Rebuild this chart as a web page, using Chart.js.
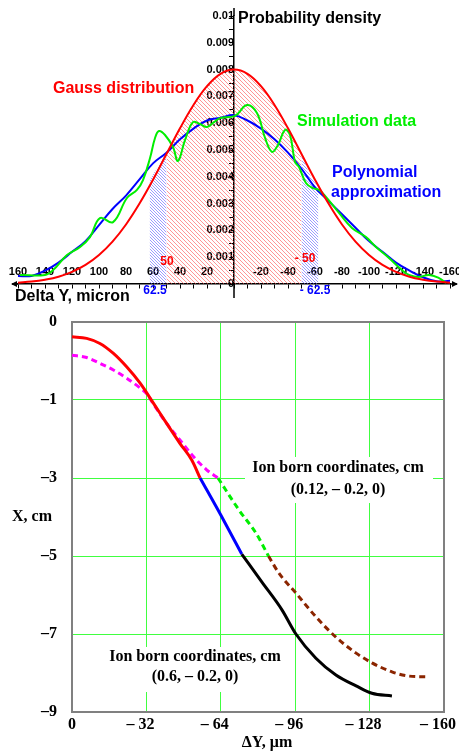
<!DOCTYPE html>
<html>
<head>
<meta charset="utf-8">
<script src="https://cdn.jsdelivr.net/npm/chart.js@4.4.1/dist/chart.umd.min.js"></script>
<style>
html, body { margin: 0; padding: 0; background: #fff; }
#wrap { position: relative; width: 459px; height: 751px; overflow: hidden; }
#top { position: absolute; left: 0; top: 0; }
#bottom { position: absolute; left: 0; top: 305px; }
</style>
</head>
<body>
<div id="wrap">
  <canvas id="top" width="459" height="305"></canvas>
  <canvas id="bottom" width="459" height="446"></canvas>
</div>
<script>
// ---- top chart: probability density vs Delta Y ----
var gaussX = [160, 150, 140, 130, 120, 110, 100, 90, 80, 70, 60, 50, 40, 30, 20, 10, 0,
              -10, -20, -30, -40, -50, -60, -70, -80, -90, -100, -110, -120, -130, -140, -150, -160];
var gaussY = [0.00005, 0.00009, 0.00016, 0.00027, 0.00045, 0.00071, 0.00108, 0.00158, 0.00222, 0.00300, 0.00389, 0.00485, 0.00581, 0.00668, 0.00738, 0.00784, 0.00800,
              0.00784, 0.00738, 0.00668, 0.00581, 0.00485, 0.00389, 0.00300, 0.00222, 0.00158, 0.00108, 0.00071, 0.00045, 0.00027, 0.00016, 0.00009, 0.00005];

var polyX = [160, 150, 140, 130, 120, 110, 100, 90, 80, 70, 60, 50, 40, 30, 20, 10, 0,
             -10, -20, -30, -40, -50, -60, -70, -80, -90, -100, -110, -120, -130, -140, -150, -160];
var polyY = [0.0003, 0.0003, 0.0005, 0.0008, 0.0012, 0.0016, 0.0022, 0.0028, 0.0033, 0.0039, 0.0045, 0.0049, 0.0054, 0.0058, 0.0061, 0.0062, 0.0063,
             0.0061, 0.0058, 0.0054, 0.0049, 0.0043, 0.0036, 0.0031, 0.0026, 0.0021, 0.0016, 0.0012, 0.0008, 0.0005, 0.00025, 0.0001, 0.00012];

var simX = [158.5, 140, 134, 123.7, 114, 106.7, 99.3, 89.6, 79.3, 71.9, 67.4, 62.2, 58.5, 55.6, 51.1, 45.2, 41.5, 36.3, 30.4, 25.2, 20, 14.8, 10.4, -0.7,
            -9.6, -17, -23, -28.1, -32.6, -37.8, -41.5, -45.2, -48.1, -53.3, -58.5, -63, -68.1, -77.8, -87.4, -97.8, -105.2, -114.8, -124.4, -129.6, -137, -144.4, -151.9, -157];
var simY = [0.00034, 0.00034, 0.00052, 0.00108, 0.00138, 0.00175, 0.00246, 0.00231, 0.00321, 0.00351, 0.00388, 0.0047, 0.00545, 0.00571, 0.00556, 0.00511, 0.00459, 0.00537, 0.00604, 0.00597, 0.00586, 0.00604, 0.00619, 0.00627,
            0.00668, 0.00638, 0.00545, 0.00493, 0.00519, 0.00575, 0.00556, 0.00455, 0.00437, 0.00377, 0.00358, 0.00351, 0.00325, 0.00265, 0.00209, 0.00175, 0.00138, 0.00097, 0.00052, 0.00034, 0.00026, 0.00034, 0.00022, 0.00004];

// hatched bands
var redHatchX = [50, 40, 30, 20, 10, 0, -10, -20, -30, -40, -50];
var redHatchY = [0.00485, 0.00581, 0.00668, 0.00738, 0.00784, 0.00800, 0.00784, 0.00738, 0.00668, 0.00581, 0.00485];
var blueHatchLeftX = [62.5, 56, 50];
var blueHatchLeftY = [0.0039, 0.0044, 0.0049];
var blueHatchRightX = [-50, -56, -62.5];
var blueHatchRightY = [0.0049, 0.0041, 0.0036];

// ---- bottom chart: trajectories X vs Delta Y ----
var redX = [0, -6.3, -12, -17.7, -23.5, -29.3, -35, -40.7, -46.4, -51.5, -55.1];
var redY = [0.62, 0.58, 0.45, 0.20, -0.15, -0.57, -1.08, -1.60, -2.11, -2.54, -3.0];
var blueX = [-55.1, -64, -73];
var blueY = [-3.0, -3.95, -4.95];
var blackX = [-73, -81.7, -90.3, -96.3, -104.9, -113.5, -122.2, -129, -137.6];
var blackY = [-4.95, -5.67, -6.38, -7.0, -7.62, -8.05, -8.33, -8.52, -8.59];

var magentaX = [0, -6.3, -12, -17.8, -23.5, -29.2, -32.3, -35, -40.7, -46.5, -52.2, -57.9, -62.8];
var magentaY = [0.15, 0.09, -0.06, -0.23, -0.44, -0.69, -0.85, -1.1, -1.6, -2.03, -2.45, -2.79, -3.0];
var greenX = [-62.8, -71.8, -79.1, -84.5];
var greenY = [-3.0, -3.82, -4.41, -5.0];
var brownX = [-84.5, -89, -96.3, -104.9, -113.5, -122.2, -129, -137.6, -145, -153.5];
var brownY = [-5.0, -5.44, -5.95, -6.56, -7.08, -7.49, -7.74, -7.97, -8.08, -8.1];

var xTicksBottom = 32;
var yTicksBottom = 2;

var SANS = 'Arial, "Liberation Sans", sans-serif';
var SERIF = '"Times New Roman", "Liberation Serif", serif';

function xy(xs, ys) {
    return xs.map(function(x, i) { return { x: x, y: ys[i] }; });
}

function hatch(color, step) {
    var c = document.createElement('canvas');
    c.width = step; c.height = step;
    var g = c.getContext('2d');
    g.strokeStyle = color;
    g.lineWidth = 1;
    g.beginPath();
    g.moveTo(-1, -1); g.lineTo(step + 1, step + 1);
    g.moveTo(-1, step - 1); g.lineTo(1, step + 1);
    g.moveTo(step - 1, -1); g.lineTo(step + 1, 1);
    g.stroke();
    return g.createPattern(c, 'repeat');
}

function line(label, xs, ys, color, width, dash, mono) {
    var ds = { label: label, data: xy(xs, ys), borderColor: color, backgroundColor: color, fill: false,
               pointRadius: 0, borderWidth: width, borderDash: dash || [], tension: 0.4, clip: false, order: 1 };
    if (mono) ds.cubicInterpolationMode = 'monotone';
    return ds;
}

function area(label, xs, ys, pattern) {
    return { label: label, data: xy(xs, ys), borderWidth: 0, borderColor: 'rgba(0,0,0,0)', backgroundColor: pattern,
             fill: 'origin', pointRadius: 0, tension: 0.4, order: 10 };
}

function text(ctx, str, x, y, font, color, align) {
    ctx.save();
    ctx.font = font;
    ctx.fillStyle = color;
    ctx.textAlign = align || 'left';
    ctx.textBaseline = 'middle';
    ctx.fillText(str, x, y);
    ctx.restore();
}

function noPad(s) { s.paddingLeft = 0; s.paddingRight = 0; s.paddingTop = 0; s.paddingBottom = 0; }

var topLabels = {
    id: 'topLabels',
    afterDraw: function(chart) {
        var ctx = chart.ctx;
        var xs = chart.scales.x, ys = chart.scales.y;
        var y0 = ys.getPixelForValue(0);
        var x0 = xs.getPixelForValue(0);
        // arrow ends of the horizontal axis, axis stubs
        ctx.save();
        ctx.strokeStyle = '#000';
        ctx.fillStyle = '#000';
        ctx.lineWidth = 1.5;
        ctx.beginPath();
        ctx.moveTo(12, y0); ctx.lineTo(xs.left, y0);
        ctx.moveTo(xs.right, y0); ctx.lineTo(457, y0);
        ctx.moveTo(x0, ys.top); ctx.lineTo(x0, 8);
        ctx.moveTo(x0, y0); ctx.lineTo(x0, 298);
        ctx.stroke();
        ctx.beginPath();
        ctx.moveTo(11, y0); ctx.lineTo(17, y0 - 3); ctx.lineTo(17, y0 + 3); ctx.closePath();
        ctx.moveTo(458, y0); ctx.lineTo(452, y0 - 3); ctx.lineTo(452, y0 + 3); ctx.closePath();
        ctx.fill();
        ctx.restore();

        var b16 = 'bold 16px ' + SANS, b12 = 'bold 12px ' + SANS;
        text(ctx, 'Probability density', 238, 19, b16, '#000');
        text(ctx, 'Gauss distribution', 53, 89, b16, '#ff0000');
        text(ctx, 'Simulation data', 297, 122, b16, '#00ee00');
        text(ctx, 'Polynomial', 332, 173, b16, '#0000ff');
        text(ctx, 'approximation', 331, 193, b16, '#0000ff');
        text(ctx, 'Delta Y, micron', 15, 297, b16, '#000');
        text(ctx, '50', 167, 262, b12, '#ff0000', 'center');
        text(ctx, '- 50', 305, 259, b12, '#ff0000', 'center');
        text(ctx, '62.5', 155, 291, b12, '#0000ff', 'center');
        text(ctx, '- 62.5', 315, 291, b12, '#0000ff', 'center');
    }
};

new Chart(document.getElementById('top'), {
    type: 'line',
    data: { datasets: [
        area('band50', redHatchX, redHatchY, hatch('rgba(255,80,80,0.6)', 4)),
        area('bandL', blueHatchLeftX, blueHatchLeftY, hatch('rgba(90,90,255,0.6)', 3)),
        area('bandR', blueHatchRightX, blueHatchRightY, hatch('rgba(90,90,255,0.6)', 3)),
        line('Gauss distribution', gaussX, gaussY, '#ff0000', 2),
        line('Simulation data', simX, simY, '#00ee00', 2),
        line('Polynomial approximation', polyX, polyY, '#0000ff', 2)
    ] },
    options: {
        responsive: false, animation: false, events: [],
        layout: { padding: { left: 18, right: 9, top: 16, bottom: 21 } },
        plugins: { legend: { display: false }, tooltip: { enabled: false } },
        scales: {
            x: {
                type: 'linear', reverse: true, min: -160, max: 160, position: { y: 0 },
                afterFit: function(s) { s.height = 0; noPad(s); },
                grid: { drawOnChartArea: false, drawTicks: true, tickLength: 4, color: '#000' },
                border: { display: true, color: '#000', width: 1.5 },
                ticks: { stepSize: 10, autoSkip: false, maxRotation: 0, minRotation: 0, padding: -23, color: '#000',
                         font: { family: SANS, weight: 'bold', size: 11 },
                         callback: function(v) { return v % 20 === 0 && v !== 0 ? String(v) : ''; } }
            },
            y: {
                type: 'linear', min: 0, max: 0.01, position: { x: 0 },
                afterFit: function(s) { s.width = 0; noPad(s); },
                grid: { drawOnChartArea: false, drawTicks: true, tickLength: 4, color: '#000' },
                border: { display: true, color: '#000', width: 1.5 },
                ticks: { stepSize: 0.0005, maxTicksLimit: 100, autoSkip: false, padding: 0, color: '#000',
                         font: { family: SANS, weight: 'bold', size: 11 },
                         callback: function(v) { var k = Math.round(v * 10000); return k % 10 === 0 ? String(k / 10000) : ''; } }
            }
        }
    },
    plugins: [topLabels]
});

var bottomLabels = {
    id: 'bottomLabels',
    beforeDatasetsDraw: function(chart) {
        var ctx = chart.ctx, a = chart.chartArea;
        ctx.save();
        ctx.strokeStyle = '#808080';
        ctx.lineWidth = 2;
        ctx.beginPath();
        ctx.moveTo(a.left, a.top); ctx.lineTo(a.right, a.top); ctx.lineTo(a.right, a.bottom);
        ctx.stroke();
        ctx.restore();
    },
    afterDatasetsDraw: function(chart) {
        var ctx = chart.ctx;
        var b16 = 'bold 16px ' + SERIF;
        ctx.save();
        ctx.fillStyle = '#fff';
        ctx.fillRect(245, 152, 188, 46);
        ctx.fillRect(100, 342, 190, 45);
        ctx.restore();
        text(ctx, 'Ion born coordinates, cm', 338, 163, b16, '#000', 'center');
        text(ctx, '(0.12, \u2013 0.2, 0)', 338, 185, b16, '#000', 'center');
        text(ctx, 'Ion born coordinates, cm', 195, 352, b16, '#000', 'center');
        text(ctx, '(0.6, \u2013 0.2, 0)', 195, 372, b16, '#000', 'center');
        text(ctx, 'X, cm', 12, 212, b16, '#000');
        text(ctx, '\u0394Y, \u03bcm', 267, 438, b16, '#000', 'center');
    }
};

new Chart(document.getElementById('bottom'), {
    type: 'line',
    data: { datasets: [
        line('red', redX, redY, '#ff0000', 3, null, true),
        line('blue', blueX, blueY, '#0000ff', 3, null, true),
        line('black', blackX, blackY, '#000000', 3, null, true),
        line('magenta', magentaX, magentaY, '#ff00ff', 3, [6, 4], true),
        line('green', greenX, greenY, '#00ee00', 3, [6, 4], true),
        line('brown', brownX, brownY, '#8b2500', 3, [6, 4], true)
    ] },
    options: {
        responsive: false, animation: false, events: [],
        layout: { padding: { left: 0, right: 15, top: 17, bottom: 0 } },
        plugins: { legend: { display: false }, tooltip: { enabled: false } },
        scales: {
            x: {
                type: 'linear', reverse: true, min: -160, max: 0, position: 'bottom',
                afterFit: function(s) { s.height = 39; noPad(s); },
                grid: { color: '#40ff40', lineWidth: 1, drawTicks: false },
                border: { color: '#808080', width: 2 },
                ticks: { stepSize: xTicksBottom, autoSkip: false, maxRotation: 0, padding: 3, color: '#000',
                         font: { family: SERIF, weight: 'bold', size: 16 },
                         // trailing spaces pull the dash-prefixed labels left, as in the original
                         callback: function(v) { return v === 0 ? '0' : '\u2013 ' + Math.abs(v) + '   '; } }
            },
            y: {
                type: 'linear', min: -9, max: 1,
                afterFit: function(s) { s.width = 72; noPad(s); },
                grid: { color: '#40ff40', lineWidth: 1, drawTicks: false },
                border: { color: '#808080', width: 2 },
                ticks: { stepSize: yTicksBottom, padding: 15, color: '#000',
                         font: { family: SERIF, weight: 'bold', size: 16 },
                         callback: function(v) { return v === 1 ? '0' : '\u2013' + Math.abs(v); } }
            }
        }
    },
    plugins: [bottomLabels]
});
</script>
</body>
</html>
